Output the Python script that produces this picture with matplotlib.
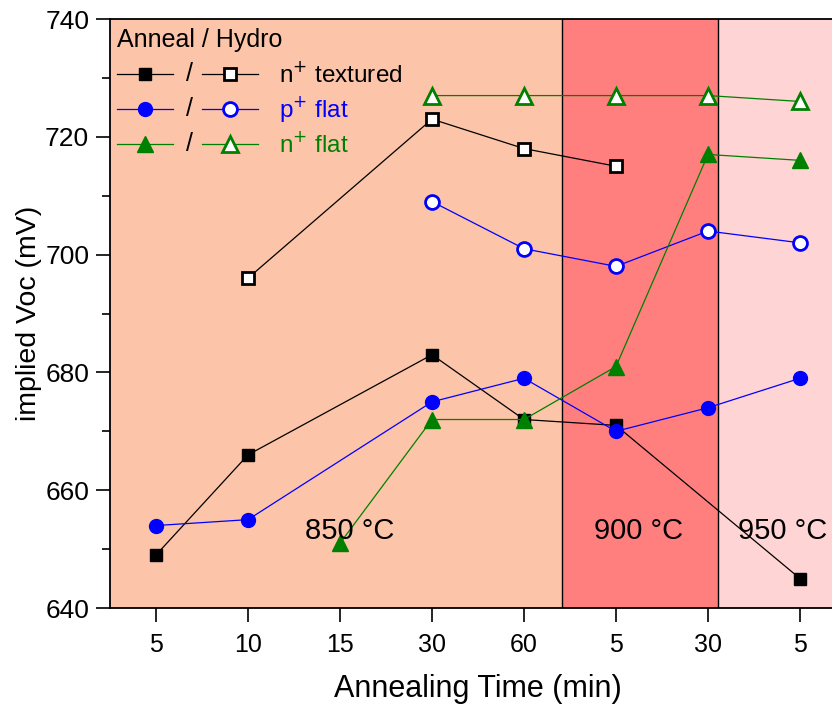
import numpy as np
import matplotlib.pyplot as plt
from matplotlib.ticker import MultipleLocator

plt.rcParams['font.family'] = ['Liberation Sans', 'DejaVu Sans']

# Daten
tick_labels = ['5', '10', '15', '30', '60', '5', '30', '5']
idx = np.arange(len(tick_labels))

# Anneal (gefuellt)
ntex_ann_x = [0, 1, 3, 4, 5, 7]
ntex_ann_y = [649, 666, 683, 672, 671, 645]
pflat_ann_x = [0, 1, 3, 4, 5, 6, 7]
pflat_ann_y = [654, 655, 675, 679, 670, 674, 679]
nflat_ann_x = [2, 3, 4, 5, 6, 7]
nflat_ann_y = [651, 672, 672, 681, 717, 716]

# Hydro (offen)
ntex_hyd_x = [1, 3, 4, 5]
ntex_hyd_y = [696, 723, 718, 715]
pflat_hyd_x = [3, 4, 5, 6, 7]
pflat_hyd_y = [709, 701, 698, 704, 702]
nflat_hyd_x = [3, 4, 5, 6, 7]
nflat_hyd_y = [727, 727, 727, 727, 726]

# Temperaturbereiche
regions = [(-0.5, 4.41, '#FCC4A8', '850 °C', 2.1),
           (4.41, 6.11, '#FF7F7F', '900 °C', 5.25),
           (6.11, 7.5, '#FFD4D4', '950 °C', 6.81)]

fig = plt.figure(figsize=(8.32, 7.04), dpi=100)
ax = fig.add_axes([110/832, 1-608/704, 736/832, 589/704])

for x0, x1, c, lab, xt in regions:
    ax.axvspan(x0, x1, color=c, zorder=0, lw=0)
    ax.text(xt, 653, lab, fontsize=21, ha='center', va='center')
ax.axvline(4.41, color='k', lw=1)
ax.axvline(6.11, color='k', lw=1)

lw = 0.9
ms_s, ms_o, ms_t = 9, 10, 11
ax.plot(ntex_ann_x, ntex_ann_y, '-s', color='k', lw=lw, ms=ms_s)
ax.plot(ntex_hyd_x, ntex_hyd_y, '-s', color='k', lw=lw, ms=ms_s, mfc='white', mew=2)
ax.plot(pflat_ann_x, pflat_ann_y, '-o', color='#0000FF', lw=lw, ms=ms_o)
ax.plot(pflat_hyd_x, pflat_hyd_y, '-o', color='#0000FF', lw=lw, ms=ms_o, mfc='white', mew=2)
ax.plot(nflat_ann_x, nflat_ann_y, '-^', color='#008000', lw=lw, ms=ms_t)
ax.plot(nflat_hyd_x, nflat_hyd_y, '-^', color='#008000', lw=lw, ms=ms_t, mfc='white', mew=2)

# Legende von Hand
tr = ax.transAxes
def fx(px):
    return (px - 110) / 736
def fy(py):
    return (608 - py) / 589

ax.text(fx(117), fy(40), 'Anneal / Hydro', transform=tr, fontsize=18, va='center')
legend_rows = [('s', 'k', r'n$^{+}$ textured', 74, ms_s),
               ('o', '#0000FF', r'p$^{+}$ flat', 109, ms_o),
               ('^', '#008000', r'n$^{+}$ flat', 144, ms_t)]
for m, c, lab, py, s in legend_rows:
    ax.plot([fx(117), fx(173)], [fy(py)]*2, color=c, lw=lw, transform=tr)
    ax.plot([fx(145)], [fy(py)], m, color=c, ms=s, transform=tr)
    ax.text(fx(190), fy(py), '/', transform=tr, fontsize=18, ha='center', va='center')
    ax.plot([fx(202), fx(258)], [fy(py)]*2, color=c, lw=lw, transform=tr)
    ax.plot([fx(230)], [fy(py)], m, color=c, ms=s, mfc='white', mew=2, transform=tr)
    ax.text(fx(279), fy(py), lab, transform=tr, fontsize=17.5, va='center', color=c)

ax.set_xlim(-0.5, 7.5)
ax.set_ylim(640, 740)
ax.set_xticks(idx)
ax.set_xticklabels(tick_labels)
ax.yaxis.set_major_locator(MultipleLocator(20))
ax.yaxis.set_minor_locator(MultipleLocator(10))
ax.tick_params(axis='both', which='major', direction='out', length=10, width=1.2)
ax.tick_params(axis='x', labelsize=18, pad=8)
ax.tick_params(axis='y', labelsize=19, pad=5)
ax.tick_params(axis='y', which='minor', direction='out', length=6, width=1.2)
for sp in ax.spines.values():
    sp.set_linewidth(1.3)

ax.set_xlabel('Annealing Time (min)', fontsize=22, labelpad=12)
ax.set_ylabel('implied Voc (mV)', fontsize=20.5, labelpad=2)

fig.savefig('out.png', dpi=100)
